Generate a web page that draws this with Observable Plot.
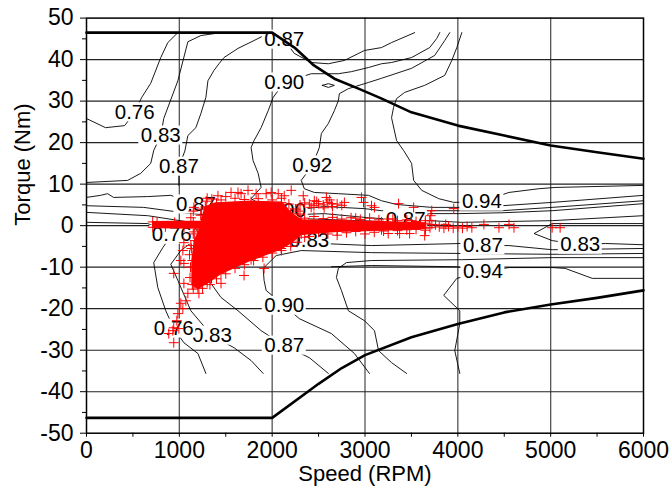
<!DOCTYPE html>
<html>
<head>
<meta charset="utf-8">
<script src="https://cdn.jsdelivr.net/npm/d3@7"></script>
<script src="https://cdn.jsdelivr.net/npm/@observablehq/plot@0.6"></script>
<style>
  html, body { margin: 0; padding: 0; background: #fff; }
</style>
</head>
<body>
<div id="chart"></div>
<script>
// ---- axes ----
const xTicks = [0, 1000, 2000, 3000, 4000, 5000, 6000];
const xMinor = [500, 1500, 2500, 3500, 4500, 5500];
const yTicks = [-50, -40, -30, -20, -10, 0, 10, 20, 30, 40, 50];
const yMinor = [-45, -35, -25, -15, -5, 5, 15, 25, 35, 45];

// ---- torque envelope [speed RPM, torque Nm] ----
const envTop = [[0,46.5],[2000,46.5],[2240,42.9],[2450,38.6],[2670,35.4],[2930,33.0],[3180,30.6],[3500,27.3],[4000,24.1],[4500,21.7],[5000,19.3],[5500,17.7],[6000,16.1]];
const envBot = [[0,-46.3],[2000,-46.3],[2420,-39.4],[2500,-38.1],[2750,-34.3],[3000,-31.2],[3500,-26.9],[4000,-23.7],[4500,-20.9],[5000,-19.0],[5500,-17.4],[6000,-15.6]];

// ---- efficiency contour lines [speed, torque] ----
const c076u = [[0,25.8],[205,23.6],[411,24.1],[519,27.3],[595,30.9],[692,34.3],[800,40.5],[876,44.1],[984,46.5]];
const c083u = [[0,10.4],[443,10.9],[584,12.6],[692,15.0],[724,18.1],[800,21.7],[832,25.8],[984,34.9],[1092,44.3],[1232,45.8],[1449,46.5]];
const c087u = [[995,9.7],[995,14.2],[1060,18.0],[1092,21.7],[1178,23.6],[1232,27.0],[1286,30.9],[1308,34.9],[1373,37.4],[1427,39.0],[1481,40.5],[1632,42.7],[1805,44.6],[1957,46.3]];
const c087top = [[2000,46.5],[2130,44.8],[2238,41.5],[2421,39.3],[2605,39.0],[2778,39.8],[2994,42.2],[3178,42.9],[3286,44.1],[3535,46.5]];
const c090 = [[3805,46.5],[3773,45.1],[3697,42.9],[3502,40.5],[3286,39.3],[3178,39.0],[3038,38.1],[2854,37.1],[2713,36.6],[2421,36.6],[2130,34.5],[2011,30.9],[1957,27.7],[1881,23.6],[1805,20.5],[1773,18.8],[1794,15.7],[1849,12.6],[1881,9.2],[1773,6.5],[1903,4.8],[2151,3.6],[2562,4.6],[2994,4.1],[3178,3.6],[3719,3.6],[4475,3.6],[5016,4.4],[6000,6.0]];
const c092 = [[3913,46.5],[3859,44.6],[3751,41.0],[3502,37.9],[3178,35.5],[3038,34.5],[2821,33.0],[2724,31.8],[2713,30.1],[2670,27.7],[2605,24.6],[2530,22.2],[2508,18.8],[2432,14.5],[2313,10.9],[2346,8.9],[2454,8.0],[2713,7.7],[3038,7.3],[3178,6.0],[3340,5.1],[3719,4.4],[4043,4.4],[4475,4.8],[5016,5.6],[6000,7.3]];
const c092dot = [[2540,33.8],[2605,34.2],[2670,33.8],[2605,33.3],[2540,33.8]];
const c094u = [[4043,46.5],[3989,42.9],[3935,39.8],[3859,36.2],[3643,33.8],[3427,32.1],[3340,30.6],[3308,28.5],[3286,26.0],[3340,20.5],[3416,18.1],[3502,15.0],[3524,10.9],[3611,8.5],[3794,6.5],[3956,5.6],[4259,5.8],[4551,8.0],[4875,8.9],[5048,9.2],[6000,9.7]];
const c087mid = [[0,6.8],[151,7.3],[227,7.7],[292,6.8],[659,7.0],[908,7.3],[1178,5.1],[1394,4.1],[1773,3.2],[2313,2.7],[2562,2.9],[3038,1.9],[3178,1.7],[3438,1.5],[3697,2.9],[4011,2.9],[4475,3.1],[5016,3.6],[6000,5.3]];
const c083mid = [[0,4.8],[616,4.4],[1016,3.2],[1449,2.2],[2313,1.7],[3178,1.0],[3697,1.2],[4043,0.8],[5016,1.2],[6000,2.4]];
const c083loop = [[6000,0.5],[5016,0.5],[4821,-1.9],[5016,-3.6],[5319,-4.6],[5589,-4.3],[6000,-4.6]];
const c076low = [[0,0.8],[659,0.5],[800,-0.7],[919,-2.2],[822,-5.3],[724,-8.9],[768,-14.9],[854,-20.5],[940,-24.8],[1049,-28.2],[1200,-30.8],[1286,-35.6]];
const c083low = [[0,3.2],[659,2.4],[1124,0.8],[1232,-2.4],[1016,-6.0],[908,-9.3],[984,-13.2],[1124,-20.5],[1351,-26.5],[1589,-29.4],[1773,-32.5],[1903,-35.6]];
const c087low = [[6000,-5.5],[5016,-5.8],[4551,-4.8],[4270,-4.8],[4043,-4.3],[3070,-4.8],[2313,-4.1],[1773,-4.8],[1394,-9.6],[1340,-13.9],[1449,-17.3],[1632,-20.5],[1881,-25.3],[2130,-28.9],[2400,-31.8],[2605,-35.6]];
const c090low = [[6000,-6.7],[5016,-6.9],[4043,-6.7],[3070,-6.5],[2313,-6.0],[2043,-7.2],[1903,-10.3],[1913,-13.2],[1935,-15.6],[2130,-19.3],[2292,-22.4],[2638,-26.0],[2886,-30.8],[3048,-35.6]];
const c092low = [[6000,-7.7],[5016,-7.7],[4043,-8.2],[3070,-8.4],[2800,-8.9],[2713,-10.3],[2692,-12.5],[2746,-15.6],[2821,-20.5],[2994,-22.9],[3102,-25.3],[3146,-30.1],[3286,-33.0],[3448,-35.6]];
const c094low = [[4021,-35.6],[3967,-30.1],[4021,-23.6],[4021,-20.5],[3848,-16.8],[3989,-12.7],[4270,-11.1],[4551,-10.1],[5016,-10.1],[5156,-10.3],[5448,-12.7],[6000,-12.7]];
const c094b = [[2638,-9.9],[3070,-9.6],[3989,-9.9],[4270,-11.1]];

// ---- contour labels ----
const labelText   = ["0.87","0.90","0.76","0.83","0.87","0.92","0.94","0.87","0.90","0.87","0.76","0.83","0.87","0.83","0.94","0.90","0.83","0.76","0.87"];
const labelSpeed  = [2130, 2130, 519, 800, 995, 2432, 4259, 1178, 2151, 3438, 919, 2400, 4270, 5319, 4270, 2130, 1351, 940, 2130];
const labelTorque = [44.8, 34.5, 27.3, 21.7, 14.2, 14.5, 5.8, 5.1, 3.6, 1.5, -2.2, -3.6, -4.8, -4.6, -11.1, -19.3, -26.5, -24.8, -28.9];

// ---- measured operating points (red +) ----
// saturated core of the point cloud (outline)
const cloudCore = [[713,0.9],[1240,1.0],[1280,4.5],[1400,5.4],[1773,5.8],[2100,5.6],[2200,3.0],[2313,1.3],[2700,1.1],[3178,0.9],[3650,0.6],[3650,-0.6],[3178,-1.0],[2700,-1.3],[2313,-2.0],[2205,-4.0],[2097,-5.5],[1773,-8.2],[1449,-11.4],[1300,-13.7],[1200,-15.0],[1140,-14.2],[1140,-8.4],[1165,-3.6],[1232,-0.5],[713,-0.4]];
// individual points
const cloudPts = [
  [1416,7.2],[1557,8.0],[1632,8.0],[1665,7.7],[1740,8.5],[1827,7.7],[1935,7.7],[1989,8.0],[2065,7.7],[2130,7.2],[2205,8.5],[2335,7.2],[2454,6.0],[2584,6.8],[2638,5.3],[2778,5.6],[2962,6.8],[2984,5.6],[3070,4.8],[3102,4.4],[3362,5.3],[3524,4.4],[3719,3.6],[3956,4.1],[3708,2.4],[3697,1.2],[1157,4.4],[1124,1.9],[1300,6.6],[1500,7.0],
  [2300,5.0],[2350,5.5],[2400,5.2],[2450,4.8],[2500,5.3],[2550,5.0],[2600,5.6],[2650,4.6],[2700,5.2],[2750,4.9],[2420,4.4],[2480,5.8],[2560,4.3],[2620,6.2],
  [1290,5.9],[1350,6.4],[1450,6.2],[1600,6.6],[1700,6.3],[1850,6.5],[2000,6.2],[2100,6.6],[2180,5.2],[2250,4.0],[2300,2.8],[2280,3.5],
  [2350,1.8],[2450,2.2],[2550,1.7],[2650,2.0],[2750,1.6],[2850,1.9],[2950,1.5],[3050,1.8],[3150,1.4],[3250,1.6],[3350,1.2],[3450,1.4],[3550,1.0],[3650,1.2],
  [2400,-1.9],[2500,-1.6],[2600,-2.0],[2800,-1.7],[2900,-1.4],[3100,-1.6],[3200,-1.3],[3350,-1.2],[3450,-1.0],[3550,-0.9],[3650,-1.1],[3700,-0.5],[3720,0.3],
  [3373,-1.9],[3481,-1.9],[3643,-2.4],[3760,0.2],[3800,-0.3],[3850,-0.6],[3870,0.3],[3900,-0.2],[3950,-0.6],[4000,-0.3],[4050,-0.6],[4100,-0.2],[4151,-0.5],[4281,0.3],[4443,-0.5],[4551,0.3],[4605,-0.5],[5016,-0.5],[5102,-0.5],
  [2400,-2.6],[2700,-2.3],[3000,-2.0],[3250,-1.9],[2900,1.8],[3300,1.6],[3500,1.2],
  [1230,2.5],[1240,4.0],[1200,-1.0],[1150,-2.0],[1130,-5.5],[1110,-7.0],[1120,-10.0],[1115,-12.5],[1150,-15.3],
  [1250,-15.1],[1330,-14.2],[1400,-12.8],[1500,-11.6],[1600,-10.3],[1700,-9.4],[1800,-8.4],[1900,-7.6],[2000,-6.6],[2100,-6.0],[2200,-5.0],[2270,-4.0],[2350,-2.8],
  [760,0.9],[850,-0.3],[950,0.8],[1050,-0.3],[1150,0.9],
  [1049,-4.1],[1038,-6.0],[1124,-4.8],[1016,-8.4],[1049,-9.1],[940,-11.5],[1049,-13.9],[1211,-16.3],[1449,-13.9],[1697,-12.0],[1092,-16.3],[1070,-18.1],[1016,-18.7],[1038,-20.0],[984,-21.2],[973,-22.9],[940,-24.6],[995,-24.8],[930,-25.3],[886,-26.0],[940,-28.2],[1913,-10.3],[1150,3.5],[1160,-1.5]
];

// ---- build tables ----
const contours = {c076u, c083u, c087u, c087top, c090, c092, c092dot, c094u, c087mid, c083mid, c083loop, c076low, c083low, c087low, c090low, c092low, c094low, c094b};
const contourRows = Object.entries(contours).flatMap(([id, pts]) => pts.map(([x, y]) => ({id, x, y})));
const labels = labelText.map((t, i) => ({t, x: labelSpeed[i], y: labelTorque[i]}));
const X = d => d[0], Y = d => d[1];

const W = 672, H = 493, mL = 86, mR = 29, mT = 17.6, mB = 60.3;
const rpmPerPx = 6000 / (W - mL - mR);
const nmPerPx = 100 / (H - mT - mB);
const bw = 22 * rpmPerPx, bh = 9.5 * nmPerPx;

const labelMarks = labels.flatMap(l => [
  Plot.rect([l], {x1: d => d.x - bw, x2: d => d.x + bw, y1: d => d.y - bh, y2: d => d.y + bh, fill: "#fff"}),
  Plot.text([l], {x: "x", y: "y", text: "t", fontSize: 20.5, fill: "#000"})
]);

const font = "'Liberation Sans', Arial, Helvetica, sans-serif";

const chart = Plot.plot({
  width: W, height: H,
  marginLeft: mL, marginRight: mR, marginTop: mT, marginBottom: mB,
  style: {fontFamily: font, fontSize: "23px", background: "#fff", color: "#000", overflow: "visible"},
  x: {domain: [0, 6000], ticks: xTicks, tickSize: 4, tickPadding: 4, tickFormat: d => String(d), label: null},
  y: {domain: [-50, 50], ticks: yTicks, tickSize: 6, tickPadding: 7, tickFormat: d => String(d), label: null},
  marks: [
    Plot.ruleX(xTicks.slice(1, -1), {stroke: "#555", strokeWidth: 1.3}),
    Plot.ruleY(yTicks.slice(1, -1), {stroke: "#222", strokeWidth: 1.1}),
    Plot.line(contourRows, {x: "x", y: "y", z: "id", stroke: "#000", strokeWidth: 0.9}),
    ...labelMarks,
    Plot.line(envTop, {x: X, y: Y, stroke: "#000", strokeWidth: 2.6}),
    Plot.line(envBot, {x: X, y: Y, stroke: "#000", strokeWidth: 2.6}),
    Plot.line(cloudCore, {x: X, y: Y, fill: "#ff0000", stroke: "#ff0000", strokeWidth: 2}),
    Plot.dot(cloudPts.concat(cloudCore), {x: X, y: Y, symbol: "plus", r: 3.3, stroke: "#ff0000", strokeWidth: 1}),
    Plot.frame({stroke: "#000", strokeWidth: 1.5}),
    Plot.ruleX(xMinor, {y1: -50, y2: -50 - 4 * nmPerPx, stroke: "#000"}),
    Plot.ruleY(yMinor, {x1: 0, x2: -4 * rpmPerPx, stroke: "#000"}),
    Plot.text(["Speed (RPM)"], {frameAnchor: "bottom", dy: 48, fontSize: 22, fill: "#000"}),
    Plot.text(["Torque (Nm)"], {frameAnchor: "left", dx: -64, rotate: -90, fontSize: 22, fill: "#000"})
  ]
});
document.getElementById("chart").appendChild(chart);
</script>
</body>
</html>
